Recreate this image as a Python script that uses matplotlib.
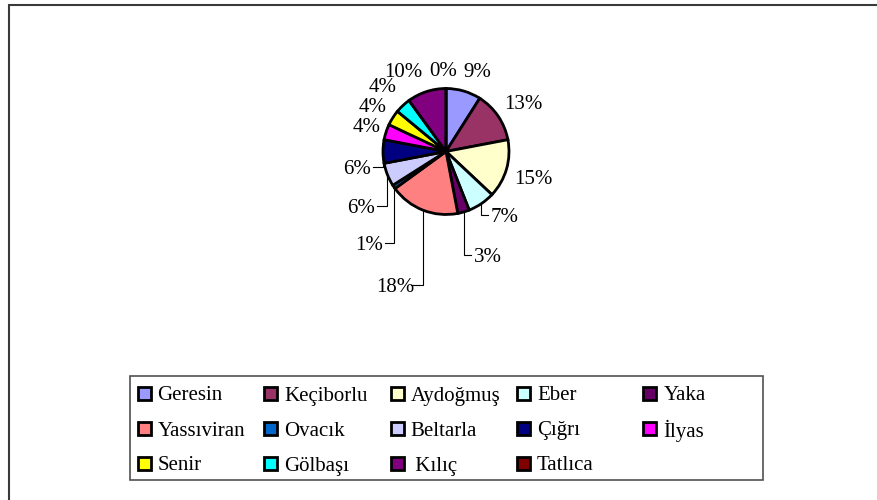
import matplotlib
matplotlib.use("Agg")
import matplotlib.pyplot as plt
from matplotlib.patches import Rectangle
import numpy as np

# ---------------- data ----------------
categories = ["Geresin", "Keçiborlu", "Aydoğmuş", "Eber", "Yaka",
              "Yassıviran", "Ovacık", "Beltarla", "Çığrı", "İlyas",
              "Senir", "Gölbaşı", " Kılıç", "Tatlıca"]
shares = [9, 13, 15, 7, 3, 18, 1, 6, 6, 4, 4, 4, 10, 0]
colors = ["#9999FF", "#993366", "#FFFFCC", "#CCFFFF", "#660066",
          "#FF8080", "#0066CC", "#CCCCFF", "#000080", "#FF00FF",
          "#FFFF00", "#00FFFF", "#800080", "#800000"]

# ---------------- layout (pixels) ----------------
W, H, DPI = 878, 500, 100
CX, CY, R = 446, 151.5, 63          # pie centre / radius in pixels
# label centres (pixels) and whether the label uses a leader line
label_px = [(477, 70), (523, 102), (533, 177), (505, 215), (488, 255),
            (395, 285), (369, 243), (361, 206), (357, 167), (367, 125),
            (373, 105), (383, 85), (403, 70), (443, 69)]
leader = [False, False, False, True, True, True, True, True, True,
          False, False, False, False, False]

FONT = "Liberation Serif"
FS = 15

fig = plt.figure(figsize=(W / DPI, H / DPI), dpi=DPI)
ax = fig.add_axes([0, 0, 1, 1])
ax.axis("off")

ax.pie(shares, colors=colors, startangle=90, counterclock=False, radius=1,
       center=(0, 0), wedgeprops=dict(edgecolor="black", linewidth=2.0))
ax.set_xlim(-CX / R, (W - CX) / R)
ax.set_ylim(-(H - CY) / R, CY / R)
ax.set_aspect("auto")


def to_data(x, y):
    return (x - CX) / R, (CY - y) / R


total = float(sum(shares))
cum = 0.0
for i, v in enumerate(shares):
    mid = (cum + v / 2.0) / total
    cum += v
    ang = np.deg2rad(90 - 360 * mid)
    lx, ly = to_data(*label_px[i])
    txt = f"{v / total * 100:.0f}%"
    ax.text(lx, ly, txt, ha="center", va="center_baseline", fontsize=FS,
            family=FONT, color="black")
    if leader[i]:
        ex, ey = np.cos(ang), np.sin(ang)
        half_w = (13.5 + 3) / R
        end_x = lx - half_w if lx > ex else lx + half_w
        ax.plot([ex, ex, end_x], [ey, ly, ly], color="black", lw=0.8,
                solid_joinstyle="miter")

# ---------------- figure border (top / left visible) ----------------
fig.add_artist(Rectangle((9 / W, -0.02), 1.05, 1 - 5 / H + 0.02,
                         transform=fig.transFigure, fill=False,
                         edgecolor="#3a3a3a", lw=1.5))

# ---------------- legend ----------------
LX0, LX1, LY0, LY1 = 130, 763, 376, 480
fig.add_artist(Rectangle((LX0 / W, 1 - LY1 / H), (LX1 - LX0) / W,
                         (LY1 - LY0) / H, transform=fig.transFigure,
                         fill=False, edgecolor="#505050", lw=1.2))
col_x0, col_dx = 137.5, 126.5
row_y = [393.5, 428.5, 463.5]
box = 13
for i, (name, c) in enumerate(zip(categories, colors)):
    r, k = divmod(i, 5)
    mx = col_x0 + k * col_dx
    my = row_y[r]
    fig.add_artist(Rectangle((mx / W, 1 - (my + box / 2) / H), box / W,
                             box / H, transform=fig.transFigure,
                             facecolor=c, edgecolor="black", lw=2.0))
    fig.text((mx + 20) / W, 1 - my / H, name, ha="left",
             va="center_baseline", fontsize=FS, family=FONT, color="black")

fig.savefig("out.png", dpi=DPI)
